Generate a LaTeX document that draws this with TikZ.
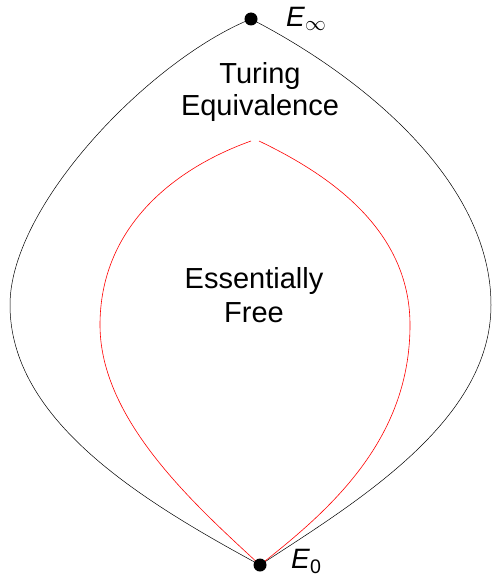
\documentclass[tikz,border=0pt]{standalone}
\usepackage{fontspec}
\setmainfont{Liberation Sans}
\usepackage{tikz}
\usetikzlibrary{positioning}

\begin{document}
\begin{tikzpicture}[x=1pt, y=-1pt, every node/.style={font=\fontsize{29}{34}\selectfont, align=center},
  dot/.style={circle,fill=black,inner sep=0pt,minimum size=13pt},
  lbl/.style={anchor=base west,inner sep=0pt,font=\fontsize{28}{34}\selectfont},
  outer/.style={line width=0.5pt,black},
  inner/.style={line width=0.6pt,red}]
\useasboundingbox (0,0) rectangle (492,578);
\coordinate (einf) at (251,19);
\coordinate (ezero) at (260,565);
\node[lbl] (linf) at (286,27) {\textit{E}$_\infty$};
\node[lbl] (lzero) at (291,568) {\textit{E}\textsubscript{0}};
\node[anchor=base] (turing) at (260,83) {Turing};
\node[anchor=base] (equiv) at (260,115) {Equivalence};
\node[anchor=base] (ess) at (254,288) {Essentially};
\node[anchor=base] (free) at (254,322) {Free};
\coordinate (bw) at (10,305);
\coordinate (be) at (491,305);
\coordinate (rtl) at (251,141);
\coordinate (rtr) at (259,141);
\coordinate (rw) at (100,325);
\coordinate (re) at (410,325);
% outer lens
\draw[outer] (einf) .. controls (150,60) and (10,205) .. (bw)
  .. controls (10,420) and (140,500) .. (ezero);
\draw[outer] (einf) .. controls (360,75) and (491,180) .. (be)
  .. controls (491,420) and (360,500) .. (ezero);
% inner lens
\draw[inner] (rtl) .. controls (170,170) and (100,230) .. (rw)
  .. controls (100,420) and (195,505) .. (ezero);
\draw[inner] (rtr) .. controls (330,175) and (410,230) .. (re)
  .. controls (410,440) and (330,510) .. (ezero);
% end points on top
\node[dot] (dinf) at (einf) {};
\node[dot] (dzero) at (ezero) {};
\end{tikzpicture}
\end{document}
